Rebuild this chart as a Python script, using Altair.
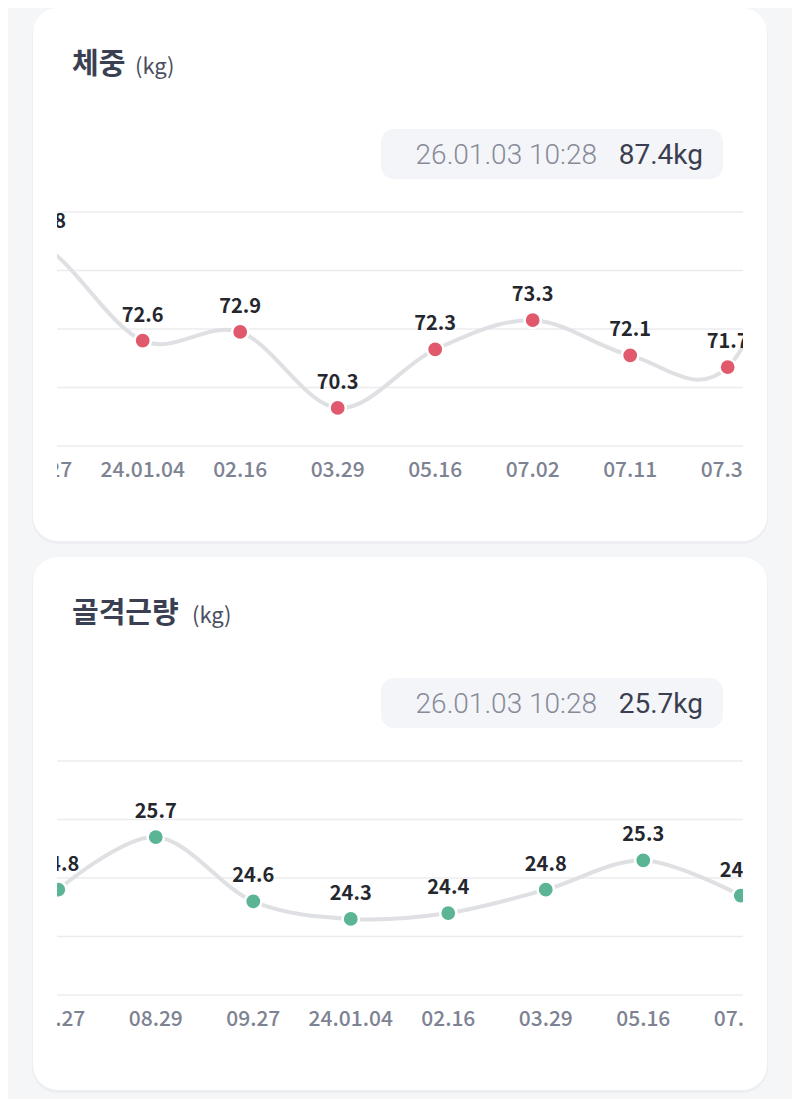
import altair as alt
import pandas as pd

# 체중 (kg): the visible window runs 09.27 … 07.30, one point either side is off-screen
w_dates = ["08.29", "09.27", "24.01.04", "02.16", "03.29", "05.16", "07.02", "07.11", "07.30", "08.13"]
w_values = [76.7, 75.8, 72.6, 72.9, 70.3, 72.3, 73.3, 72.1, 71.7, 78.5]
w_ticks = [69, 71, 73, 75, 77]

# 골격근량 (kg)
m_dates = ["07.27", "08.29", "09.27", "24.01.04", "02.16", "03.29", "05.16", "07.02"]
m_values = [24.8, 25.7, 24.6, 24.3, 24.4, 24.8, 25.3, 24.7]
m_ticks = [23, 24, 25, 26, 27]

FONT = "Noto Sans CJK KR"
PLOT_W = 686   # plot width inside the card
GRID_H = 234   # height covered by the grid lines
PLOT_H = 270   # grid + x label row


def card(dates, values, ticks, window, title, title_w, stamp, latest, dot_color):
    df = pd.DataFrame({"idx": range(len(dates)), "date": dates, "value": values})
    grid_df = pd.DataFrame({"tick": ticks})
    one = pd.DataFrame({"k": [0]})

    x = alt.X("idx:Q", scale=alt.Scale(domain=window, nice=False, zero=False), axis=None)
    y_scale = alt.Scale(domain=[ticks[0], ticks[-1]], range=[GRID_H, 0], nice=False, zero=False)

    # card background (soft shadow + white rounded box), drawn around the plot area
    shadow = alt.Chart(one).mark_rect(cornerRadius=26, color="#eceef2").encode(
        x=alt.value(-25), x2=alt.value(PLOT_W + 25), y=alt.value(-202), y2=alt.value(332)
    )
    box = alt.Chart(one).mark_rect(cornerRadius=25, color="#ffffff").encode(
        x=alt.value(-24), x2=alt.value(PLOT_W + 24), y=alt.value(-204), y2=alt.value(329)
    )

    head = alt.Chart(one).mark_text(
        text=title, font=FONT, fontSize=29, fontWeight="bold", color="#3a3f52",
        align="left", baseline="alphabetic"
    ).encode(x=alt.value(15), y=alt.value(-138))
    unit = alt.Chart(one).mark_text(
        text="(kg)", font=FONT, fontSize=22, fontWeight="normal", color="#4a4f60",
        align="left", baseline="alphabetic"
    ).encode(x=alt.value(title_w), y=alt.value(-138))

    # pill with the latest measurement
    pill = alt.Chart(one).mark_rect(cornerRadius=13, color="#f4f5f8").encode(
        x=alt.value(324), x2=alt.value(666), y=alt.value(-83), y2=alt.value(-33)
    )
    pill_time = alt.Chart(one).mark_text(
        text=stamp, font="Roboto", fontSize=28, fontWeight=300, color="#868b98",
        align="right", baseline="alphabetic"
    ).encode(x=alt.value(540), y=alt.value(-48))
    pill_value = alt.Chart(one).mark_text(
        text=latest, font="Roboto", fontSize=28, fontWeight=400, color="#3a3f50",
        align="right", baseline="alphabetic"
    ).encode(x=alt.value(646), y=alt.value(-48))

    grid = alt.Chart(grid_df).mark_rule(color="#ececef", strokeWidth=1.6).encode(
        y=alt.Y("tick:Q", scale=y_scale, axis=None)
    )
    line = alt.Chart(df).mark_line(
        interpolate="cardinal", color="#dfe0e3", strokeWidth=4, clip=True
    ).encode(x=x, y=alt.Y("value:Q", scale=y_scale, axis=None))
    dots = alt.Chart(df).mark_point(
        filled=True, size=265, opacity=1, color=dot_color,
        stroke="#ffffff", strokeWidth=2.5, clip=True
    ).encode(x=x, y=alt.Y("value:Q", scale=y_scale))
    value_labels = alt.Chart(df).mark_text(
        font=FONT, fontSize=20, fontWeight="bold", color="#25272e", dy=-25, clip=True
    ).encode(x=x, y=alt.Y("value:Q", scale=y_scale), text=alt.Text("value:Q", format=".1f"))
    date_labels = alt.Chart(df).mark_text(
        font=FONT, fontSize=21, fontWeight=500, color="#7d8392", baseline="middle", clip=True
    ).encode(x=x, y=alt.value(259), text="date:N")

    return alt.layer(
        shadow, box, head, unit, pill, pill_time, pill_value,
        grid, line, dots, value_labels, date_labels
    ).properties(width=PLOT_W, height=PLOT_H)


weight = card(w_dates, w_values, w_ticks, [1.121, 8.157], "체중", 78,
              "26.01.03 10:28", "87.4kg", "#e0596d")
muscle = card(m_dates, m_values, m_ticks, [-0.013, 7.023], "골격근량", 135,
              "26.01.03 10:28", "25.7kg", "#5bb493")

chart = alt.vconcat(weight, muscle, spacing=13).properties(
    background="#f5f6f8",
    padding={"left": 24, "top": 0, "right": 24, "bottom": 6},
).configure_view(strokeWidth=0)

chart.save("out.html", embed_options={"renderer": "svg", "actions": False})
